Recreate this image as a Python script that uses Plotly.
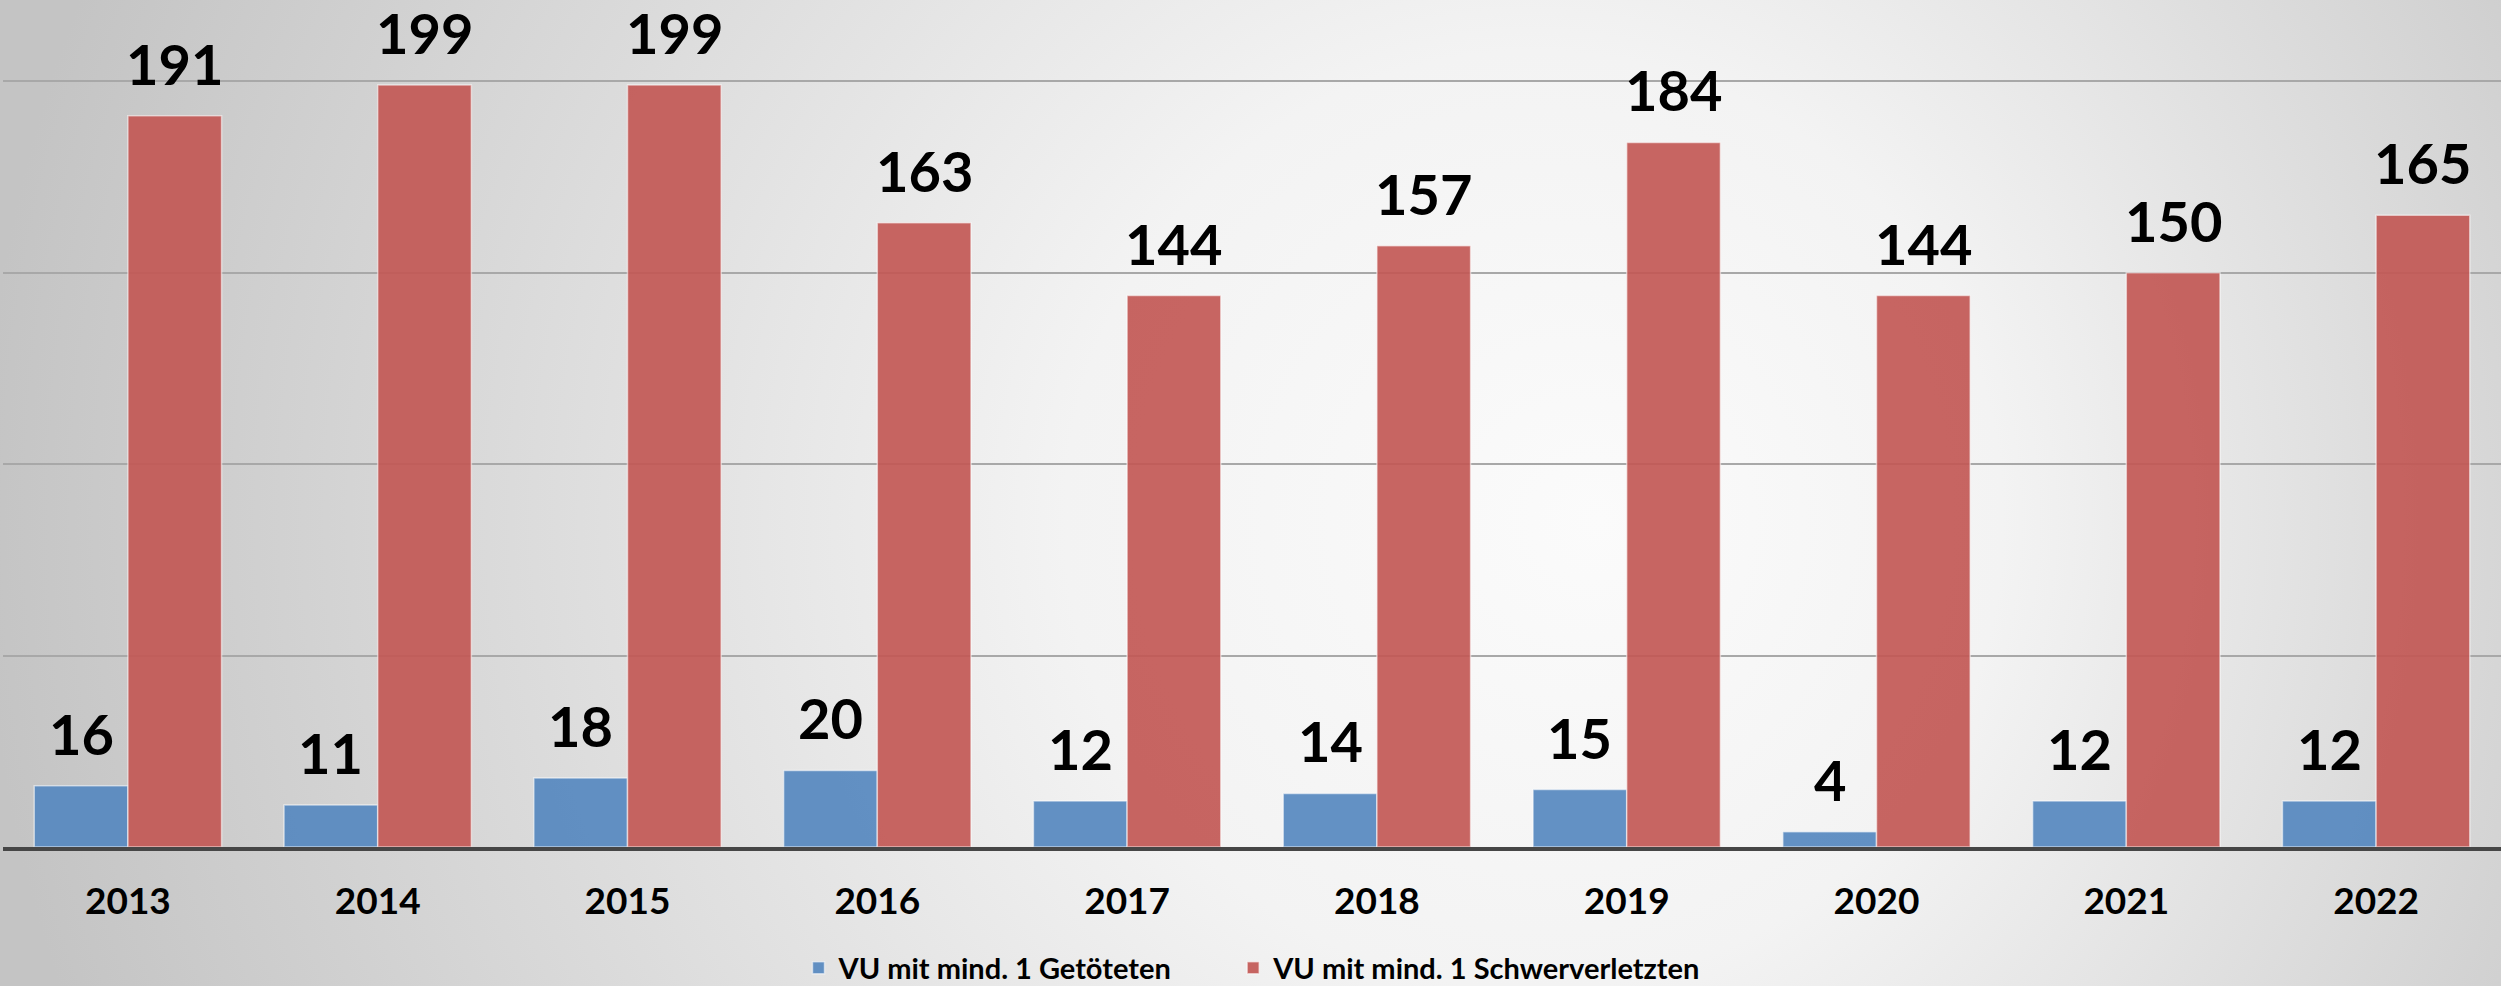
import base64
import plotly.graph_objects as go

# ---- data ----
years = [2013, 2014, 2015, 2016, 2017, 2018, 2019, 2020, 2021, 2022]
year_labels = ["2013", "2014", "2015", "2016", "2017", "2018", "2019", "2020", "2021", "2022"]
getoetete = [16, 11, 18, 20, 12, 14, 15, 4, 12, 12]
schwerverletzte = [191, 199, 199, 163, 144, 157, 184, 144, 150, 165]
series_names = ["VU mit mind. 1 Getöteten", "VU mit mind. 1 Schwerverletzten"]

# ---- style ----
W, H = 2501, 986
FONT = "Lato, 'Open Sans', sans-serif"
BLUE = "rgba(86,136,191,0.92)"
RED = "rgba(194,88,85,0.92)"
BARGAP = 0.25
bar_w = (1 - BARGAP) / 2
LEGEND_PAD = "\u00a0" * 8  # extra spacing between legend entries

svg = (
    f'<svg xmlns="http://www.w3.org/2000/svg" width="{W}" height="{H}" viewBox="0 0 {W} {H}" preserveAspectRatio="none">'
    '<defs><radialGradient id="g" gradientUnits="userSpaceOnUse" cx="1400" cy="520" r="1420" fx="1600" fy="520">'
    '<stop offset="0" stop-color="#fbfbfb"/><stop offset="0.33" stop-color="#f3f3f3"/>'
    '<stop offset="1" stop-color="#c4c4c4"/></radialGradient></defs>'
    f'<rect x="0" y="0" width="{W}" height="{H}" fill="url(#g)"/></svg>'
)
src = "data:image/svg+xml;base64," + base64.b64encode(svg.encode()).decode()

fig = go.Figure()
fig.add_trace(go.Bar(x=years, y=getoetete, name=series_names[0] + LEGEND_PAD,
                     marker=dict(color=BLUE, line=dict(color="rgba(255,255,255,0.55)", width=1.5))))
fig.add_trace(go.Bar(x=years, y=schwerverletzte, name=series_names[1],
                     marker=dict(color=RED, line=dict(color="rgba(255,255,255,0.55)", width=1.5))))

annotations = []
for i, yr in enumerate(years):
    for vals, off in ((getoetete, -bar_w / 2), (schwerverletzte, bar_w / 2)):
        annotations.append(dict(x=yr + off, y=vals[i], text=str(vals[i]), showarrow=False,
                                xref="x", yref="y", yanchor="bottom", yshift=17,
                                font=dict(family=FONT, size=56, color="#000000", weight="bold")))

plot_bottom = 139
plot_h = H - plot_bottom
ymax = 221.2

fig.update_layout(
    width=W, height=H,
    margin=dict(l=3, r=0, t=0, b=plot_bottom, pad=0, autoexpand=False),
    paper_bgcolor="#d4d4d4",
    plot_bgcolor="rgba(0,0,0,0)",
    barmode="group", bargap=BARGAP, bargroupgap=0,
    showlegend=True,
    legend=dict(orientation="h", x=0.5, xanchor="center", y=-(968 - plot_h) / plot_h,
                yanchor="middle", font=dict(family=FONT, size=29, color="#000000", weight="bold"),
                bgcolor="rgba(0,0,0,0)", traceorder="normal", tracegroupgap=0),
    annotations=annotations,
    images=[dict(source=src, xref="paper", yref="paper", x=-3 / (W - 3), y=1,
                 sizex=W / (W - 3), sizey=H / plot_h, xanchor="left", yanchor="top",
                 sizing="stretch", layer="below")],
    xaxis=dict(range=[years[0] - 0.5, years[-1] + 0.5], tickmode="array", tickvals=years,
               ticktext=year_labels, showgrid=False, zeroline=False, showline=True,
               linecolor="#464646", linewidth=4, ticks="", ticklabelstandoff=19,
               tickfont=dict(family=FONT, size=37, color="#000000", weight="bold")),
    yaxis=dict(range=[0, ymax], dtick=50, showticklabels=False, showgrid=True,
               gridcolor="#a8a8a8", gridwidth=2, zeroline=False, showline=False),
)

fig.write_html(
    "out.html",
    config={"displayModeBar": False},
    post_script="document.body.style.margin='0';document.body.style.overflow='hidden';"
                "document.body.style.background='#d4d4d4';",
)
